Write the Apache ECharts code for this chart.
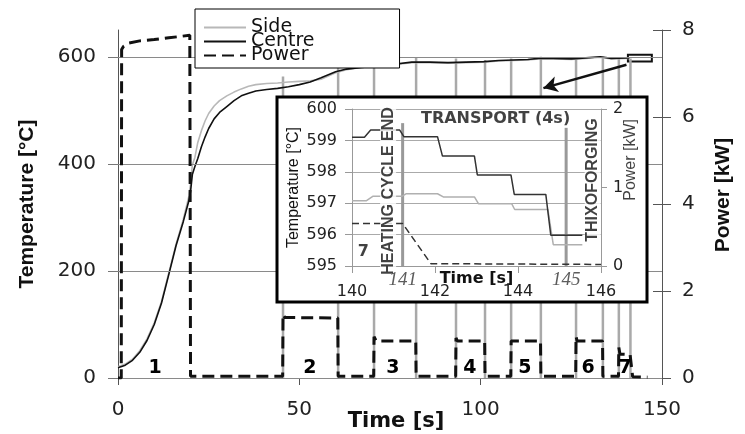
<!DOCTYPE html>
<html><head><meta charset="utf-8">
<script src="https://cdn.jsdelivr.net/npm/echarts@6/dist/echarts.min.js"></script>
<style>html,body{margin:0;padding:0;background:#fff}#c{width:745px;height:434px}</style>
</head><body><div id="c"></div>
<script>
// ===== Main chart data =====
const centreTime = [0,2,4,6,8,10,12,14,16,18,19.5,20,20.5,21.2,22,23,24,25,26.5,28,30,32,34,36,38,41,44,47,50,53,56,60,63,67,71,76,81,86,91,96,101,105,109,113,116,120,125,129,133,136,140,141];
const centreTemp = [19,24,33,48,70,100,140,193,247,292,330,348,380,395,410,432,450,466,484,496,507,518,527,532,536,539,541,544,548,553,561,572,577,580,582,586,590,590,589,590,591,593,594,595,597,597,596,598,600,597,598,598];
const sideTime = [0,2,4,6,8,10,12,14,16,18,19.5,20,20.5,21.2,22,23,24,25,26.5,28,30,32,34,36,38,41,44,47,50,53,56,60,63,67,71,76,81,86,91,96,101,105,109,113,116,120,125,129,133,136,140,141];
const sideTemp = [21,26,35,51,73,103,143,196,250,296,338,362,398,412,440,462,480,494,508,518,527,534,540,545,548,550,551,553,554,555,558,570,576,580,582,585,589,589,588,589,590,592,593,594,596,596,595,597,599,596,597,597];
const powerTime = [0,0.9,1.0,1.5,3,6,10,14,17,19.8,20.0,45.4,45.5,46,60.6,60.7,70.5,70.6,71.2,82.1,82.2,93.1,93.2,93.6,101.1,101.2,108.3,108.4,116.5,116.6,126.2,126.3,126.6,133.6,133.7,138.0,138.1,138.4,141.2,141.9,146];
const powerKW = [0,0,7.55,7.62,7.7,7.75,7.78,7.82,7.85,7.88,0.04,0.04,1.46,1.39,1.38,0.04,0.04,0.95,0.85,0.85,0.04,0.04,0.92,0.85,0.85,0.04,0.04,0.85,0.85,0.04,0.04,0.95,0.85,0.85,0.04,0.04,0.7,0.55,0.54,0.03,0.02];
// grey vertical event lines (power switching instants) and their top temperature
const eventTime = [45.5,60.7,70.6,82.2,93.2,101.2,108.4,116.6,126.3,133.7,138.1,141.3];
const eventTop  = [563,585,591,598,597,594,597,600,597,600,599,597];
const phaseNames = ['1','2','3','4','5','6','7'];
const phaseTime  = [10.2,52.9,75.8,97.0,112.2,129.6,139.8];
const phaseTemp  = [19,19,19,19,19,19,19];
const xTicks = [0,50,100,150];
const tempTicks = [0,200,400,600];
const powerTicks = [0,2,4,6,8];
// zoom window marker and arrow (data coordinates of main chart)
const zoomBox = [[140.6,591],[147.2,604]];
const zoomArrow = [[140.2,585],[117.3,541.5]];

// ===== Inset data =====
const insetCentreTime = [140,140.3,140.45,141.15,141.25,142.06,142.18,142.95,143.02,143.83,143.91,144.67,144.79,145.55];
const insetCentreTemp = [599.1,599.1,599.33,599.33,599.12,599.12,598.5,598.5,597.9,597.9,597.28,597.28,595.98,595.98];
const insetSideTime = [140,140.35,140.5,141.2,141.3,142.06,142.2,142.95,143.05,143.85,143.92,144.72,144.85,145.55];
const insetSideTemp = [597.08,597.08,597.22,597.22,597.3,597.3,597.2,597.2,596.98,596.98,596.8,596.8,595.68,595.68];
const insetPowerTime = [140,141.22,141.9,146];
const insetPowerKW = [0.54,0.54,0.03,0.02];
const insetEventTime = [141.22,145.16];
const insetEventTop = [599.55,599.4];
const insetEventLabels = ['HEATING CYCLE END','THIXOFORGING'];
const insetEventLabelTime = [140.87,145.8];
const insetEventLabelTemp = [597.39,597.74];
const insetEventTickLabels = ['141','145'];
const transportArrow = [[141.22,599.3],[145.15,599.3]];
const transportLabel = {text:'TRANSPORT (4s)', time:143.46, temp:599.68};
const insetPhase = {text:'7', time:140.27, temp:595.46};

const zip = (a,b)=>a.map((v,i)=>[v,b[i]]);
const F = 'DejaVu Sans';
const chart = echarts.init(document.getElementById('c'), null, {renderer:'canvas'});

const vline = (color,width)=>function(params, api){
  const p0 = api.coord([api.value(0), api.value(2)]);
  const p1 = api.coord([api.value(0), api.value(1)]);
  return {type:'line', shape:{x1:p0[0],y1:p0[1],x2:p1[0],y2:p1[1]}, style:{stroke:color, lineWidth:width}};
};
const textLabels = (names, fontSize, extra)=>function(params, api){
  const p = api.coord([api.value(0), api.value(1)]);
  return Object.assign({type:'text', x:p[0], y:p[1],
    style:{text:names[params.dataIndex], align:'center', verticalAlign:'middle', fill:'#000',
      font:'bold '+fontSize+'px "DejaVu Sans"'}}, extra||{});
};

const option = {
  animation:false,
  backgroundColor:'#fff',
  grid:[
    {left:118, right:83, top:30, bottom:56, outerBoundsMode:'none', containLabel:false},
    {left:352, right:144, top:109, bottom:168, outerBoundsMode:'none', containLabel:false}
  ],
  legend:{
    data:['Side','Centre','Power'], orient:'vertical', left:195, top:9,
    backgroundColor:'#fff', borderColor:'#000', borderWidth:1, padding:[9,85,3,8],
    itemWidth:42, itemHeight:12, itemGap:-5, z:20,
    itemStyle:{color:'rgba(0,0,0,0)', borderWidth:0, opacity:0},
    textStyle:{fontFamily:F, fontSize:19, color:'#111'}
  },
  xAxis:[
    {gridIndex:0, type:'value', min:0, max:150, interval:50,
     axisLine:{lineStyle:{color:'#555'}}, axisTick:{length:7, lineStyle:{color:'#555'}},
     axisLabel:{fontFamily:F, fontSize:20, color:'#222', margin:22},
     splitLine:{show:false},
     name:'Time [s]', nameLocation:'middle', nameGap:33, nameMoveOverlap:false,
     nameTextStyle:{fontFamily:F, fontWeight:'bold', fontSize:21, color:'#111', padding:[0,0,0,12]}},
    {gridIndex:1, type:'value', min:140, max:146, interval:2, z:12,
     axisLine:{lineStyle:{color:'#999'}}, axisTick:{length:7, lineStyle:{color:'#999'}},
     axisLabel:{fontFamily:F, fontSize:16, color:'#222', margin:18},
     splitLine:{show:false},
     name:'Time [s]', nameLocation:'middle', nameGap:5, nameMoveOverlap:false,
     nameTextStyle:{fontFamily:F, fontWeight:'bold', fontSize:16, color:'#111'}},
  ],
  yAxis:[
    {gridIndex:0, type:'value', min:0, max:650, interval:200, position:'left',
     axisLine:{show:true, lineStyle:{color:'#555'}},
     axisTick:{show:true, length:10, customValues:tempTicks, lineStyle:{color:'#777'}},
     axisLabel:{fontFamily:F, fontSize:20, color:'#222', margin:22, customValues:tempTicks},
     splitLine:{show:false},
     name:'Temperature [°C]', nameLocation:'middle', nameGap:80, nameMoveOverlap:false,
     nameTextStyle:{fontFamily:'Liberation Sans', fontWeight:'bold', fontSize:21, color:'#111'}},
    {gridIndex:0, type:'value', min:0, max:8, interval:2, position:'right',
     axisLine:{show:true, lineStyle:{color:'#555'}},
     axisTick:{show:true, length:9, lineStyle:{color:'#555'}},
     axisLabel:{fontFamily:F, fontSize:20, color:'#222', margin:20},
     splitLine:{show:false}},
    {gridIndex:0, type:'value', min:0, max:8, interval:2, position:'right',
     axisLine:{show:false}, axisTick:{show:true, inside:true, length:9, lineStyle:{color:'#555'}},
     axisLabel:{show:false}, splitLine:{show:false}},
    {gridIndex:1, type:'value', min:595, max:600, interval:1, position:'left', z:12,
     axisLine:{show:true, lineStyle:{color:'#999'}},
     axisTick:{show:true, length:7, lineStyle:{color:'#999'}},
     axisLabel:{fontFamily:F, fontSize:16, color:'#222', margin:15},
     splitLine:{show:true, lineStyle:{color:'#aaa', width:1}},
     name:'Temperature [°C]', nameLocation:'middle', nameGap:50, nameMoveOverlap:false,
     nameTextStyle:{fontFamily:'Liberation Sans', fontSize:16, color:'#111'}},
    {gridIndex:1, type:'value', min:0, max:2, interval:1, position:'right', z:12,
     axisLine:{show:true, lineStyle:{color:'#999'}},
     axisTick:{show:true, length:6, lineStyle:{color:'#999'}},
     axisLabel:{fontFamily:F, fontSize:16, color:'#222', margin:12},
     splitLine:{show:false}}
  ],
  graphic:{elements:[
    {type:'rect', z:8, shape:{x:277, y:97, width:370, height:205},
     style:{fill:'#fff', stroke:'#000', lineWidth:3}},
    {type:'text', z:8, x:723, y:195, rotation:Math.PI/2,
     style:{text:'Power [kW]', align:'center', verticalAlign:'middle', fill:'#111',
       font:'bold 21px "Liberation Sans"'}}
  ]},
  series:[
    {type:'custom', name:'events', xAxisIndex:0, yAxisIndex:0, z:1,
     data:eventTime.map((t,i)=>[t,eventTop[i],0]), renderItem:vline('#a9a9a9',2.5), silent:true},
    {type:'line', name:'gridlines', xAxisIndex:0, yAxisIndex:0, data:[], z:0, silent:true,
     markLine:{silent:true, symbol:'none', label:{show:false}, lineStyle:{color:'#8a8a8a', width:1, type:'solid'},
       data:tempTicks.map(v=>({yAxis:v}))}},
    {type:'line', name:'Side', xAxisIndex:0, yAxisIndex:0, data:zip(sideTime,sideTemp), showSymbol:false, symbol:'none', z:3,
     lineStyle:{color:'#b8b8b8', width:1.6}, itemStyle:{color:'#b8b8b8'}},
    {type:'line', name:'Centre', xAxisIndex:0, yAxisIndex:0, data:zip(centreTime,centreTemp), showSymbol:false, symbol:'none', z:4,
     lineStyle:{color:'#111', width:1.6}, itemStyle:{color:'#111'},
     markArea:{silent:true, itemStyle:{color:'rgba(0,0,0,0)', borderColor:'#111', borderWidth:2},
       data:[[{coord:zoomBox[0]},{coord:zoomBox[1]}]]},
     markLine:{silent:true, symbol:['none','arrow'], symbolSize:[12,14], label:{show:false},
       lineStyle:{color:'#111', width:2.5, type:'solid'},
       data:[[{coord:zoomArrow[0]},{coord:zoomArrow[1]}]]}},
    {type:'line', name:'Power', xAxisIndex:0, yAxisIndex:1, data:zip(powerTime,powerKW), showSymbol:false, symbol:'none', z:5,
     lineStyle:{color:'#111', width:3, type:[12,6]}, itemStyle:{color:'#111'}},
    {type:'custom', name:'phases', xAxisIndex:0, yAxisIndex:0, z:6, silent:true,
     data:phaseTime.map((t,i)=>[t,phaseTemp[i]]), renderItem:textLabels(phaseNames,19)},
    // ---- inset ----
    {type:'custom', name:'insetEvents', xAxisIndex:1, yAxisIndex:3, z:13,
     data:insetEventTime.map((t,i)=>[t,insetEventTop[i],595]), renderItem:vline('#999',3), silent:true},
    {type:'line', name:'insetSide', xAxisIndex:1, yAxisIndex:3, data:zip(insetSideTime,insetSideTemp), showSymbol:false, symbol:'none', z:14,
     lineStyle:{color:'#b0b0b0', width:1.5}},
    {type:'line', name:'insetCentre', xAxisIndex:1, yAxisIndex:3, data:zip(insetCentreTime,insetCentreTemp), showSymbol:false, symbol:'none', z:15,
     lineStyle:{color:'#333', width:1.5},
     markLine:{silent:true, symbol:['arrow','arrow'], symbolSize:[9,12], label:{show:false},
       lineStyle:{color:'#111', width:2, type:'solid'},
       data:[[{coord:transportArrow[0]},{coord:transportArrow[1]}]]}},
    {type:'line', name:'insetPower', xAxisIndex:1, yAxisIndex:4, data:zip(insetPowerTime,insetPowerKW), showSymbol:false, symbol:'none', z:15,
     lineStyle:{color:'#333', width:1.5, type:[7,4]}},
    {type:'scatter', name:'insetEventLabels', xAxisIndex:1, yAxisIndex:3, z:18, symbolSize:1, silent:true, clip:false,
     itemStyle:{color:'transparent'},
     data:insetEventLabelTime.map((t,i)=>[t,insetEventLabelTemp[i]]),
     label:{show:true, position:'inside', rotate:90, formatter:p=>insetEventLabels[p.dataIndex],
       fontFamily:'Liberation Sans', fontWeight:'bold', fontSize:16, color:'#111', backgroundColor:'#fff', padding:[0,1]}},
    {type:'scatter', name:'insetEventTicks', xAxisIndex:1, yAxisIndex:3, z:18, symbolSize:1, silent:true, clip:false,
     itemStyle:{color:'transparent'},
     data:insetEventTime.map(t=>[t,595]),
     label:{show:true, position:'inside', offset:[0,14], formatter:p=>insetEventTickLabels[p.dataIndex],
       fontFamily:'Liberation Serif', fontStyle:'italic', fontSize:19, color:'#333'}},
    {type:'scatter', name:'insetTexts', xAxisIndex:1, yAxisIndex:3, z:18, symbolSize:1, silent:true, clip:false,
     itemStyle:{color:'transparent'},
     data:[[transportLabel.time,transportLabel.temp],[insetPhase.time,insetPhase.temp]],
     label:{show:true, position:'inside', formatter:p=>[transportLabel.text,insetPhase.text][p.dataIndex],
       fontFamily:F, fontWeight:'bold', fontSize:16, color:'#111'}},
    {type:'scatter', name:'insetPowerName', xAxisIndex:1, yAxisIndex:3, z:18, symbolSize:1, silent:true, clip:false,
     itemStyle:{color:'transparent'},
     data:[[146.72,598.38]],
     label:{show:true, position:'inside', rotate:90, formatter:'Power [kW]',
       fontFamily:'Liberation Sans', fontSize:16, color:'#111'}}
  ]
};
chart.setOption(option);
</script></body></html>
